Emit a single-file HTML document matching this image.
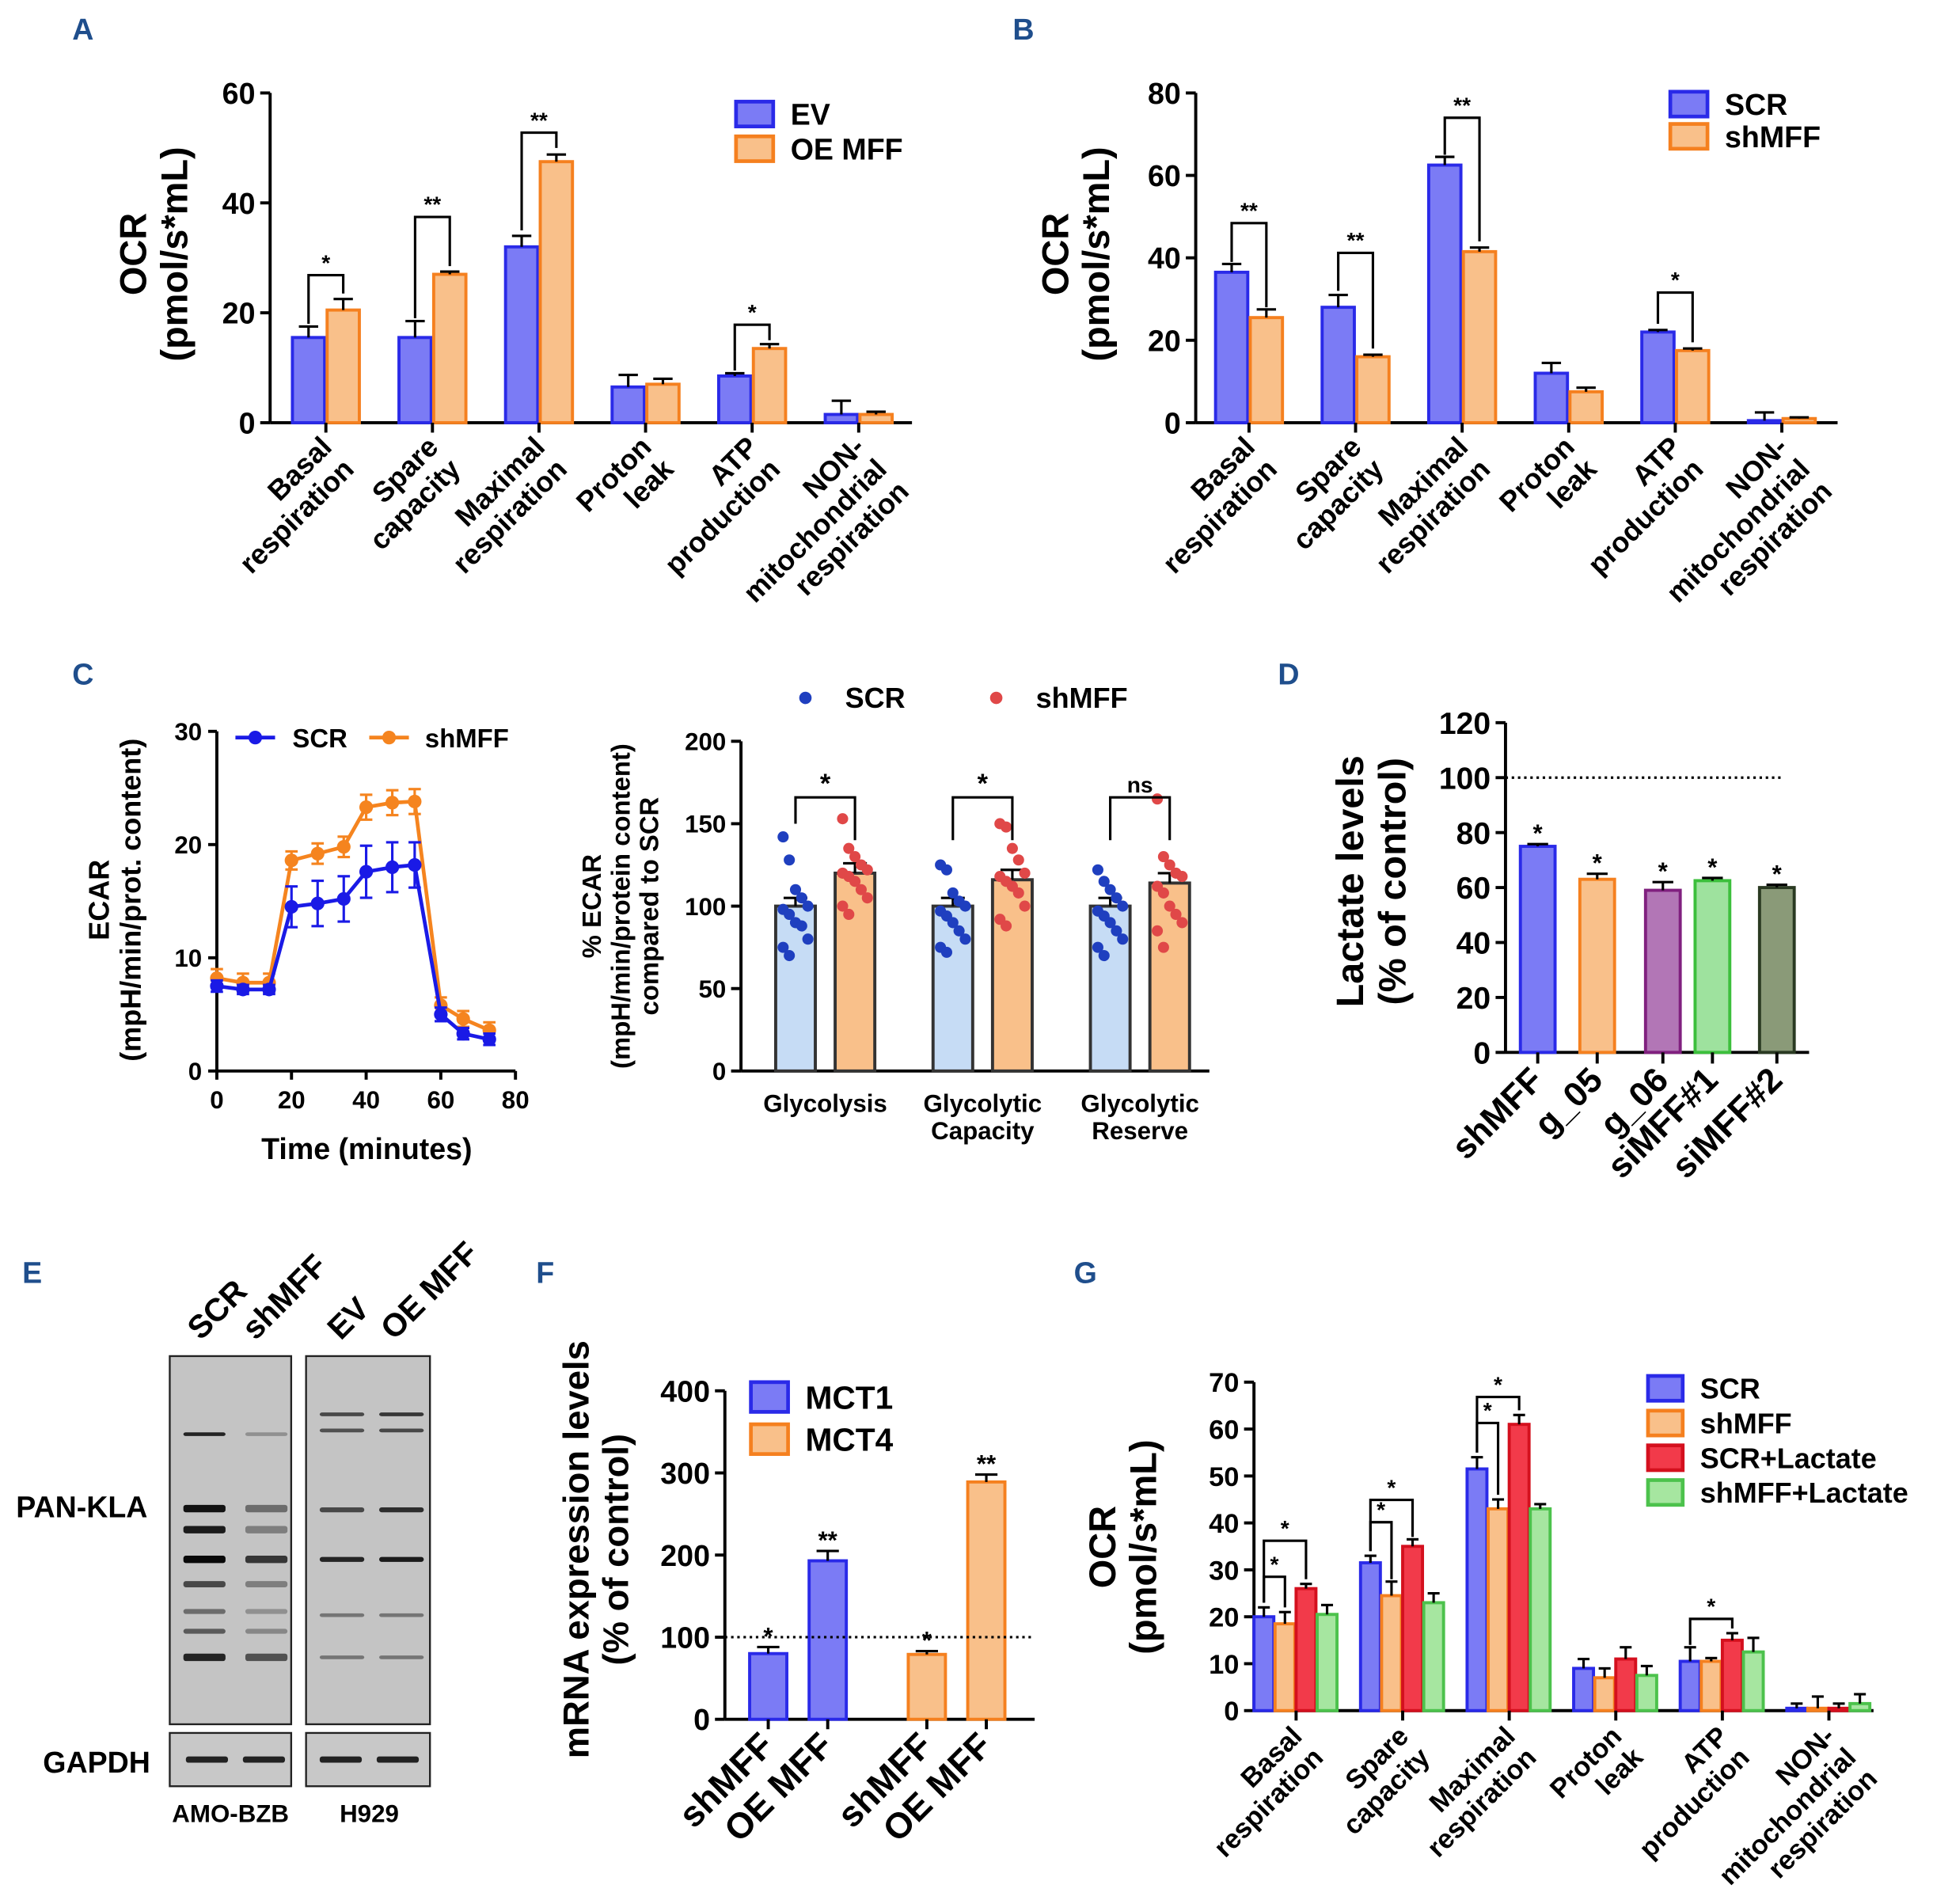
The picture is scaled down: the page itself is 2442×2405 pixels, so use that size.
<!DOCTYPE html>
<html><head><meta charset="utf-8"><style>
html,body{margin:0;padding:0;background:#fff;}
svg{display:block;font-family:"Liberation Sans",sans-serif;font-weight:bold;}
</style></head><body>
<svg id="fig" xmlns="http://www.w3.org/2000/svg" width="2442" height="2405" viewBox="0 0 1560 1536" preserveAspectRatio="none"></svg>
<script>
// ---------- DATA ----------
const catsA = ["Basal\nrespiration","Spare\ncapacity","Maximal\nrespiration","Proton\nleak","ATP\nproduction","NON-\nmitochondrial\nrespiration"];
const aEV = [15.5,15.5,32,6.5,8.5,1.5];
const aEVerr = [2,3,2,2.2,0.5,2.5];
const aOE = [20.5,27,47.5,7,13.5,1.5];
const aOEerr = [2,0.5,1.3,1,0.8,0.5];
const aTicks = [0,20,40,60];
const bSCR = [36.5,28,62.5,12,22,0.5];
const bSCRerr = [2,3,2,2.5,0.5,2];
const bSH = [25.5,16,41.5,7.5,17.5,1];
const bSHerr = [2,0.5,1,1,0.5,0.3];
const bTicks = [0,20,40,60,80];
const cTime = [0,7,14,20,27,34,40,47,53,60,66,73];
const cSCR = [7.5,7.2,7.2,14.5,14.8,15.2,17.6,18,18.2,5,3.3,2.8];
const cSCRerr = [0.5,0.4,0.4,1.8,2,2,2.3,2.2,2,0.6,0.5,0.5];
const cSH = [8.2,7.8,7.8,18.6,19.2,19.8,23.3,23.7,23.8,5.8,4.6,3.6];
const cSHerr = [0.8,0.8,0.8,0.8,0.9,0.9,1.1,1.1,1.1,0.7,0.7,0.7];
const cXTicks = [0,20,40,60,80];
const cYTicks = [0,10,20,30];
const c2Cats = ["Glycolysis\n","Glycolytic\nCapacity","Glycolytic\nReserve"];
const c2SCR = [100,100,100];
const c2SH = [120,116,114];
const c2SCRdots = [[142,128,110,105,100,98,95,90,88,80,75,70],[125,122,108,103,100,97,94,90,85,80,75,72],[122,115,110,105,100,97,94,90,85,80,75,70]];
const c2SHdots = [[153,135,130,125,122,120,118,115,110,105,100,95],[150,148,135,128,120,118,115,112,108,100,92,88],[165,130,125,120,118,112,108,100,95,90,85,75]];
const c2Ticks = [0,50,100,150,200];
const dCats = ["shMFF","g_05","g_06","siMFF#1","siMFF#2"];
const dVals = [75,63,59,62.5,60];
const dErr = [0.8,2,3,1,1];
const dTicks = [0,20,40,60,80,100,120];
const fCats = ["shMFF","OE MFF","shMFF","OE MFF"];
const fVals = [80,193,79,289];
const fErr = [8,12,4,9];
const fTicks = [0,100,200,300,400];
const gSCR = [20,31.5,51.5,9,10.5,0.5];
const gSCRerr = [2,1.5,2.5,2,3,1];
const gSH = [18.5,24.5,43,7,10.5,0.5];
const gSHerr = [2.5,3,2,2,0.7,2.5];
const gSCRL = [26,35,61,11,15,0.5];
const gSCRLerr = [1,1.5,2,2.5,1.5,1];
const gSHL = [20.5,23,43,7.5,12.5,1.5];
const gSHLerr = [2,2,1,2,3,2];
const gTicks = [0,10,20,30,40,50,60,70];

// ---------- HELPERS ----------
const svg = document.getElementById('fig');
const NS = "http://www.w3.org/2000/svg";
function mk(tag, attrs, parent){
  const e = document.createElementNS(NS, tag);
  for (const k in attrs) e.setAttribute(k, attrs[k]);
  (parent||svg).appendChild(e);
  return e;
}
function txt(s, x, y, size, anchor, rot, name, parent){
  const lines = s.split("\n");
  const t = mk('text', {x:x, y:y, 'font-size':size, 'text-anchor':anchor||'middle', fill:'#000'}, parent);
  
  
  if (rot) t.setAttribute('transform', `rotate(${rot} ${x} ${y})`);
  lines.forEach((l,i)=>{ const ts = mk('tspan', {x:x, dy: i===0?0:size*1.1}, t); ts.textContent = l; });
  return t;
}
function line(x1,y1,x2,y2,w,name,dash,color){
  const l = mk('line',{x1,y1,x2,y2,stroke:color||'#000','stroke-width':w||2.5});
  if (dash) l.setAttribute('stroke-dasharray', dash);
  
  
  return l;
}
function yAxis(x, y0, y1, ticks, max, size, name){
  const ys = v => y0 - (v/max)*(y0-y1);
  line(x, y0, x, y1, 2.5, name+'-y-axis');
  ticks.forEach(t=>{ line(x-8, ys(t), x, ys(t), 2.5, name+'-y-tick'); txt(String(t), x-12, ys(t)+size*0.36, size, 'end', 0, name+'-y-tick-label'); });
  return ys;
}
function bar(cx, w, v, err, ys, fill, stroke, name){
  const y0 = ys(0), yv = ys(v);
  const r = mk('rect',{x:cx-w/2, y:yv, width:w, height:y0-yv, fill, stroke, 'stroke-width':2.5});
  
  
  if (err){ line(cx, yv, cx, ys(v+err), 2, name+'-error'); line(cx-w*0.3, ys(v+err), cx+w*0.3, ys(v+err), 2, name+'-error-cap'); }
  return r;
}
function sig(x1, x2, yb1, yb2, ytop, label, size, name){
  const p = mk('path',{d:`M${x1} ${yb1} V${ytop} H${x2} V${yb2}`, fill:'none', stroke:'#000','stroke-width':2});
  
  
  txt(label, (x1+x2)/2, ytop-4, size||18, 'middle', 0, name+'-label');
}
function legendBox(x, y, fill, stroke, label, size, w, h, name){
  const r = mk('rect',{x, y, width:w||28, height:h||18, fill, stroke, 'stroke-width':3});
  
  
  txt(label, x+(w||28)+14, y+(h||18)/2+size*0.36, size, 'start', 0, name+'-label');
}
const BL = ['#7b7bf5','#2a2ae8'], OR = ['#f9c08a','#f5801f'];

// Panel letters
[["A",67,32],["B",826,32],["C",67,552],["D",1040,552],["E",26,1035],["F",440,1035],["G",876,1035]].forEach(p=>{
  const t = txt(p[0], p[1], p[2], 24, 'middle', 0, 'panel-label-'+p[0]); t.setAttribute('fill','#1f4e8c');
});

// ---------- PANEL A ----------
(function(){
  const ys = yAxis(218, 341, 75, aTicks, 60, 24, 'panel-a');
  line(218, 341, 736, 341, 2.5, 'panel-a-x-axis');
  catsA.forEach((c,i)=>{
    const g = 235 + i*86;
    bar(g+14, 26, aEV[i], aEVerr[i], ys, BL[0], BL[1], 'panel-a-bar-ev-'+i);
    bar(g+42, 26, aOE[i], aOEerr[i], ys, OR[0], OR[1], 'panel-a-bar-oe-'+i);
    line(g+28, 341, g+28, 349, 2.5, 'panel-a-x-tick');
    txt(c, g+34, 362, 23, 'end', -45, 'panel-a-x-label');
  });
  sig(249,277,ys(18),ys(23.5),222,"*",18,'panel-a-sig-basal');
  sig(335,363,ys(19),ys(28.5),175,"**",18,'panel-a-sig-spare');
  sig(421,449,ys(35),ys(50),107,"**",18,'panel-a-sig-max');
  sig(593,621,ys(9.5),ys(15),262,"*",18,'panel-a-sig-atp');
  txt("OCR\n(pmol/s*mL)", 118, 205, 30, 'middle', -90, 'panel-a-y-title');
  legendBox(594, 82, BL[0], BL[1], "EV", 24, 30, 20, 'panel-a-legend-ev');
  legendBox(594, 110, OR[0], OR[1], "OE MFF", 24, 30, 20, 'panel-a-legend-oe');
})();

// ---------- PANEL B ----------
(function(){
  const ys = yAxis(965, 341, 75, bTicks, 80, 24, 'panel-b');
  line(965, 341, 1483, 341, 2.5, 'panel-b-x-axis');
  catsA.forEach((c,i)=>{
    const g = 980 + i*86;
    bar(g+14, 26, bSCR[i], bSCRerr[i], ys, BL[0], BL[1], 'panel-b-bar-scr-'+i);
    bar(g+42, 26, bSH[i], bSHerr[i], ys, OR[0], OR[1], 'panel-b-bar-shmff-'+i);
    line(g+28, 341, g+28, 349, 2.5, 'panel-b-x-tick');
    txt(c, g+34, 362, 23, 'end', -45, 'panel-b-x-label');
  });
  sig(994,1022,ys(39),ys(28),180,"**",18,'panel-b-sig-basal');
  sig(1080,1108,ys(32),ys(18),204,"**",18,'panel-b-sig-spare');
  sig(1166,1194,ys(65),ys(44),95,"**",18,'panel-b-sig-max');
  sig(1338,1366,ys(24),ys(19.5),236,"*",18,'panel-b-sig-atp');
  txt("OCR\n(pmol/s*mL)", 862, 205, 30, 'middle', -90, 'panel-b-y-title');
  legendBox(1348, 74, BL[0], BL[1], "SCR", 24, 30, 20, 'panel-b-legend-scr');
  legendBox(1348, 100, OR[0], OR[1], "shMFF", 24, 30, 20, 'panel-b-legend-shmff');
})();

// ---------- PANEL C (line) ----------
(function(){
  const x0=175, x1=416, y0=864, y1=590;
  const xs = v => x0 + v/80*(x1-x0);
  const ys = v => y0 - v/30*(y0-y1);
  line(x0, y0, x0, y1, 2.5, 'panel-c-y-axis');
  line(x0, y0, x1, y0, 2.5, 'panel-c-x-axis');
  cYTicks.forEach(t=>{ line(x0-7, ys(t), x0, ys(t), 2.5, 'panel-c-y-tick'); txt(String(t), x0-12, ys(t)+7, 20, 'end', 0, 'panel-c-y-tick-label'); });
  cXTicks.forEach(t=>{ line(xs(t), y0, xs(t), y0+7, 2.5, 'panel-c-x-tick'); txt(String(t), xs(t), y0+30, 20, 'middle', 0, 'panel-c-x-tick-label'); });
  function series(vals, errs, color, name){
    const pts = vals.map((v,i)=>xs(cTime[i])+','+ys(v)).join(' ');
    const pl = mk('polyline',{points:pts, fill:'none', stroke:color, 'stroke-width':3});
    
    
    vals.forEach((v,i)=>{
      const x = xs(cTime[i]);
      line(x, ys(v-errs[i]), x, ys(v+errs[i]), 2, name+'-error', null, color);
      line(x-5, ys(v+errs[i]), x+5, ys(v+errs[i]), 2, name+'-error-cap', null, color);
      line(x-5, ys(v-errs[i]), x+5, ys(v-errs[i]), 2, name+'-error-cap', null, color);
      const c = mk('circle',{cx:x, cy:ys(v), r:5.5, fill:color});
      
      
    });
  }
  series(cSH, cSHerr, '#f5841f', 'panel-c-shmff');
  series(cSCR, cSCRerr, '#1a1ae6', 'panel-c-scr');
  line(190,595,222,595,3,'panel-c-legend-scr-line',null,'#1a1ae6'); mk('circle',{cx:206,cy:595,r:5.5,fill:'#1a1ae6'});
  txt("SCR", 236, 603, 21, 'start', 0, 'panel-c-legend-scr');
  line(298,595,330,595,3,'panel-c-legend-shmff-line',null,'#f5841f'); mk('circle',{cx:314,cy:595,r:5.5,fill:'#f5841f'});
  txt("shMFF", 343, 603, 21, 'start', 0, 'panel-c-legend-shmff');
  txt("Time (minutes)", 296, 935, 24, 'middle', 0, 'panel-c-x-title');
  txt("ECAR\n(mpH/min/prot. content)", 88, 726, 23, 'middle', -90, 'panel-c-y-title');
})();

// ---------- PANEL C (bars+dots) ----------
(function(){
  const ys = yAxis(598, 864, 598, c2Ticks, 200, 20, 'panel-c2');
  line(598, 864, 976, 864, 2.5, 'panel-c2-x-axis');
  c2Cats.forEach((c,i)=>{
    const cs = 642 + i*127, ch = cs+48;
    bar(cs, 32, c2SCR[i], 5, ys, '#c6dcf5', '#333', 'panel-c2-bar-scr-'+i);
    bar(ch, 32, c2SH[i], 6, ys, '#f9c08a', '#333', 'panel-c2-bar-shmff-'+i);
    c2SCRdots[i].forEach((v,j)=>{ const d=mk('circle',{cx:cs-10+(j%5)*5,cy:ys(v),r:4.5,fill:'#1f3fbf'});   });
    c2SHdots[i].forEach((v,j)=>{ const d=mk('circle',{cx:ch-10+(j%5)*5,cy:ys(v),r:4.5,fill:'#e04848'});   });
    txt(c, cs+24, 897, 20, 'middle', 0, 'panel-c2-x-label');
  });
  sig(642,690,ys(150),ys(140),ys(175)+12,"*",22,'panel-c2-sig-glycolysis');
  sig(769,817,ys(140),ys(140),ys(175)+12,"*",22,'panel-c2-sig-capacity');
  sig(896,944,ys(140),ys(140),ys(175)+12,"ns",18,'panel-c2-sig-reserve');
  mk('circle',{cx:650,cy:563,r:5,fill:'#1f3fbf'}); txt("SCR", 682, 571, 23, 'start', 0, 'panel-c2-legend-scr');
  mk('circle',{cx:804,cy:563,r:5,fill:'#e04848'}); txt("shMFF", 836, 571, 23, 'start', 0, 'panel-c2-legend-shmff');
  txt("% ECAR\n(mpH/min/protein content)\ncompared to SCR", 485, 731, 21, 'middle', -90, 'panel-c2-y-title');
})();

// ---------- PANEL D ----------
(function(){
  const ys = yAxis(1215, 849, 583, dTicks, 120, 25, 'panel-d');
  line(1215, 849, 1460, 849, 2.5, 'panel-d-x-axis');
  line(1215, ys(100), 1437, ys(100), 2, 'panel-d-control-line', '2,3');
  const cols = [BL, OR, ['#b276b6','#80207f'], ['#9ee29e','#3cbf3c'], ['#8a9a78','#2a3a22']];
  const cxs = [1241,1289,1342,1382,1434];
  dCats.forEach((c,i)=>{
    bar(cxs[i], 28, dVals[i], dErr[i], ys, cols[i][0], cols[i][1], 'panel-d-bar-'+c);
    line(cxs[i], 849, cxs[i], 858, 2.5, 'panel-d-x-tick');
    txt("*", cxs[i], ys(dVals[i]+dErr[i])-2, 20, 'middle', 0, 'panel-d-sig');
    txt(c, cxs[i]+6, 873, 28, 'end', -45, 'panel-d-x-label');
  });
  txt("Lactate levels\n(% of control)", 1100, 711, 31, 'middle', -90, 'panel-d-y-title');
})();

// ---------- PANEL E (blot) ----------
(function(){
  const boxes = [[137,1094,98,297],[247,1094,100,297]];
  boxes.forEach((b,k)=>{
    const r = mk('rect',{x:b[0],y:b[1],width:b[2],height:b[3],fill:'#c4c4c4',stroke:'#222','stroke-width':1.5});
    
    
  });
  const bandsA = [[1157,3,0.8,0.2],[1217,6,0.9,0.4],[1234,6,0.85,0.3],[1258,6,0.95,0.7],[1278,5,0.6,0.3],[1300,4,0.4,0.2],[1316,4,0.5,0.25],[1337,6,0.8,0.55]];
  bandsA.forEach(b=>{
    [[148,1-b[2]],[198,1-b[3]]].forEach(l=>{ const g=Math.round(l[1]*180); const r=mk('rect',{x:l[0],y:b[0]-b[1]/2,width:34,height:b[1],fill:`rgb(${g},${g},${g})`,rx:2});   });
  });
  const bandsH = [[1141,3,0.6,0.7],[1154,3,0.55,0.6],[1218,4,0.6,0.75],[1258,4,0.8,0.85],[1303,3,0.35,0.35],[1337,3,0.35,0.35]];
  bandsH.forEach(b=>{
    [[258,1-b[2]],[306,1-b[3]]].forEach(l=>{ const g=Math.round(l[1]*180); const r=mk('rect',{x:l[0],y:b[0]-b[1]/2,width:36,height:b[1],fill:`rgb(${g},${g},${g})`,rx:2});   });
  });
  [[137,98,[150,196]],[247,100,[258,304]]].forEach((b,k)=>{
    const r = mk('rect',{x:b[0],y:1398,width:b[1],height:43,fill:'#c8c8c8',stroke:'#222','stroke-width':1.5});
    
    
    b[2].forEach(x=>{ const q=mk('rect',{x:x,y:1417,width:34,height:5,fill:'#222',rx:2});   });
  });
  [["SCR",162],["shMFF",206],["EV",275],["OE MFF",318]].forEach(l=>txt(l[0], l[1], 1082, 26, 'start', -45, 'blot-lane-label'));
  txt("PAN-KLA", 66, 1224, 24, 'middle', 0, 'blot-pan-kla-label');
  txt("GAPDH", 78, 1430, 24, 'middle', 0, 'blot-gapdh-label');
  txt("AMO-BZB", 186, 1470, 20, 'middle', 0, 'blot-amo-bzb-label');
  txt("H929", 298, 1470, 20, 'middle', 0, 'blot-h929-label');
})();

// ---------- PANEL F ----------
(function(){
  const ys = yAxis(585, 1387, 1122, fTicks, 400, 24, 'panel-f');
  line(585, 1387, 835, 1387, 2.5, 'panel-f-x-axis');
  const cxs = [620,668,748,796];
  fCats.forEach((c,i)=>{
    const col = i<2?BL:OR;
    bar(cxs[i], 30, fVals[i], fErr[i], ys, col[0], col[1], 'panel-f-bar-'+i);
    line(cxs[i], 1387, cxs[i], 1395, 2.5, 'panel-f-x-tick');
    txt(fVals[i]>150?"**":"*", cxs[i], ys(fVals[i]+fErr[i])-2, 20, 'middle', 0, 'panel-f-sig');
    txt(c, cxs[i]+6, 1410, 29, 'end', -45, 'panel-f-x-label');
  });
  line(585, ys(100), 835, ys(100), 2, 'panel-f-control-line', '2,3');
  txt("mRNA expression levels\n(% of control)", 475, 1250, 29, 'middle', -90, 'panel-f-y-title');
  legendBox(606, 1115, BL[0], BL[1], "MCT1", 26, 30, 24, 'panel-f-legend-mct1');
  legendBox(606, 1149, OR[0], OR[1], "MCT4", 26, 30, 24, 'panel-f-legend-mct4');
})();

// ---------- PANEL G ----------
(function(){
  const ys = yAxis(1012, 1380, 1115, gTicks, 70, 22, 'panel-g');
  line(1012, 1380, 1512, 1380, 2.5, 'panel-g-x-axis');
  const RD = ['#f23a4a','#d4101e'], GR = ['#a6e6a0','#4cc24c'];
  catsA.forEach((c,i)=>{
    const g = 1012 + i*86;
    bar(g+8, 16, gSCR[i], gSCRerr[i], ys, BL[0], BL[1], 'panel-g-bar-scr-'+i);
    bar(g+25, 16, gSH[i], gSHerr[i], ys, OR[0], OR[1], 'panel-g-bar-shmff-'+i);
    bar(g+42, 16, gSCRL[i], gSCRLerr[i], ys, RD[0], RD[1], 'panel-g-bar-scr-lactate-'+i);
    bar(g+59, 16, gSHL[i], gSHLerr[i], ys, GR[0], GR[1], 'panel-g-bar-shmff-lactate-'+i);
    line(g+34, 1380, g+34, 1388, 2.5, 'panel-g-x-tick');
    txt(c, g+40, 1402, 22, 'end', -45, 'panel-g-x-label');
  });
  sig(1020,1037,ys(23),ys(22),1272,"*",18,'panel-g-sig-basal-1');
  sig(1020,1054,ys(23),ys(28),1243,"*",18,'panel-g-sig-basal-2');
  sig(1106,1123,ys(34),ys(28),1228,"*",18,'panel-g-sig-spare-1');
  sig(1106,1140,ys(34),ys(37),1210,"*",18,'panel-g-sig-spare-2');
  sig(1192,1209,ys(55),ys(46),1148,"*",18,'panel-g-sig-max-1');
  sig(1192,1226,ys(55),ys(64),1127,"*",18,'panel-g-sig-max-2');
  sig(1364,1398,ys(14),ys(17.5),1306,"*",18,'panel-g-sig-atp');
  txt("OCR\n(pmol/s*mL)", 900, 1248, 30, 'middle', -90, 'panel-g-y-title');
  legendBox(1330, 1110, BL[0], BL[1], "SCR", 23, 28, 20, 'panel-g-legend-scr');
  legendBox(1330, 1138, OR[0], OR[1], "shMFF", 23, 28, 20, 'panel-g-legend-shmff');
  legendBox(1330, 1166, RD[0], RD[1], "SCR+Lactate", 23, 28, 20, 'panel-g-legend-scr-lactate');
  legendBox(1330, 1194, GR[0], GR[1], "shMFF+Lactate", 23, 28, 20, 'panel-g-legend-shmff-lactate');
})();
</script>
</body></html>
